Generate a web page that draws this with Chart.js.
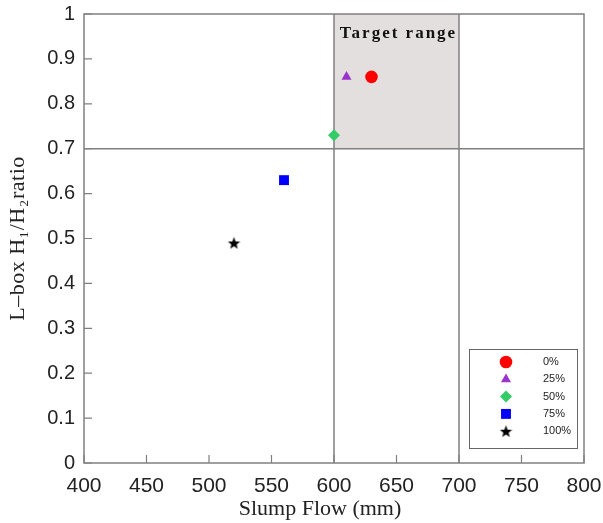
<!DOCTYPE html>
<html>
<head>
<meta charset="utf-8">
<style>
  html,body{margin:0;padding:0;background:#fff;}
  #wrap{width:603px;height:523px;}
</style>
<script src="https://cdn.jsdelivr.net/npm/chart.js@4.4.0/dist/chart.umd.min.js"></script>
</head>
<body>
<div id="wrap"><canvas id="c" width="603" height="523"></canvas></div>
<script>
// ---- data ----
const seriesLabels = ['0%', '25%', '50%', '75%', '100%'];
const slumpFlow = [630, 610, 600, 560, 520];
const lboxRatio = [0.86, 0.86, 0.73, 0.63, 0.49];
const xTicks = [400, 450, 500, 550, 600, 650, 700, 750, 800];
const yTicks = ['0', '0.1', '0.2', '0.3', '0.4', '0.5', '0.6', '0.7', '0.8', '0.9', '1'];
const targetX = [600, 700];
const targetY = [0.7, 1];
const xTitle = 'Slump Flow (mm)';
const yTitle = 'L\u2013box H\u2081/H\u2082ratio';
const targetLabel = 'Target range';

const colors = ['#ff0000', '#9933cc', '#33cc66', '#0000ff', '#000000'];

function starImage(size, color) {
  const cv = document.createElement('canvas');
  cv.width = size; cv.height = size;
  const g = cv.getContext('2d');
  const cx = size / 2, cy = size / 2 + 0.6, R = size / 2, r = R * 0.42;
  g.beginPath();
  for (let i = 0; i < 10; i++) {
    const rad = i % 2 === 0 ? R : r;
    const a = -Math.PI / 2 + i * Math.PI / 5;
    const px = cx + rad * Math.cos(a), py = cy + rad * Math.sin(a);
    if (i === 0) g.moveTo(px, py); else g.lineTo(px, py);
  }
  g.closePath();
  g.fillStyle = color;
  g.fill();
  return cv;
}
const star = starImage(13, '#000');

const styles = [
  {pointStyle: 'circle', radius: 6.3},
  {pointStyle: 'triangle', radius: 5.8},
  {pointStyle: 'rectRot', radius: 6},
  {pointStyle: 'rect', radius: 7},
  {pointStyle: star, radius: 6.5}
];

const datasets = seriesLabels.map((lab, i) => ({
  label: lab,
  data: [{x: slumpFlow[i], y: lboxRatio[i]}],
  backgroundColor: colors[i],
  borderColor: colors[i],
  borderWidth: 0,
  pointStyle: styles[i].pointStyle,
  pointRadius: styles[i].radius,
  pointHoverRadius: styles[i].radius
}));

const GRAY = '#808080';

const decor = {
  id: 'decor',
  beforeDatasetsDraw(chart) {
    const {ctx, chartArea: a, scales: {x, y}} = chart;
    ctx.save();
    // shaded target region
    const x0 = x.getPixelForValue(targetX[0]), x1 = x.getPixelForValue(targetX[1]);
    const y0 = y.getPixelForValue(targetY[1]), y1 = y.getPixelForValue(targetY[0]);
    ctx.fillStyle = '#e4dfdf';
    ctx.fillRect(x0, y0, x1 - x0, y1 - y0);
    // text
    ctx.fillStyle = '#111';
    ctx.font = 'bold 17px "Liberation Serif", "DejaVu Serif", serif';
    ctx.letterSpacing = '2px';
    ctx.textAlign = 'center';
    ctx.textBaseline = 'middle';
    ctx.fillText(targetLabel, (x0 + x1) / 2 + 2, y.getPixelForValue(0.957));
    ctx.letterSpacing = '0px';
    // reference lines
    ctx.strokeStyle = GRAY;
    ctx.lineWidth = 1.5;
    ctx.beginPath();
    [targetX[0], targetX[1]].forEach(v => {
      const px = x.getPixelForValue(v);
      ctx.moveTo(px, a.top); ctx.lineTo(px, a.bottom);
    });
    const py = y.getPixelForValue(targetY[0]);
    ctx.moveTo(a.left, py); ctx.lineTo(a.right, py);
    ctx.stroke();
    // frame
    ctx.strokeRect(a.left, a.top, a.right - a.left, a.bottom - a.top);
    // inward ticks
    ctx.lineWidth = 1.2;
    ctx.beginPath();
    xTicks.forEach(v => {
      const px = x.getPixelForValue(v);
      ctx.moveTo(px, a.bottom); ctx.lineTo(px, a.bottom - 8);
    });
    yTicks.forEach(t => {
      const py2 = y.getPixelForValue(parseFloat(t));
      ctx.moveTo(a.left, py2); ctx.lineTo(a.left + 8, py2);
    });
    ctx.stroke();
    ctx.restore();
  },
  afterDatasetsDraw(chart) {
    const {ctx, chartArea: a} = chart;
    ctx.save();
    // legend box
    const bx = 469, by = 349, bw = 108, bh = 99;
    ctx.fillStyle = '#fff';
    ctx.fillRect(bx, by, bw, bh);
    ctx.strokeStyle = '#666';
    ctx.lineWidth = 1;
    ctx.strokeRect(bx + 0.5, by + 0.5, bw, bh);
    ctx.font = '11px "Liberation Sans", Arial, sans-serif';
    ctx.textBaseline = 'middle';
    ctx.textAlign = 'left';
    seriesLabels.forEach((lab, i) => {
      const ry = 362 + i * 17.3;
      ctx.fillStyle = colors[i];
      ctx.strokeStyle = colors[i];
      Chart.helpers.drawPoint(ctx, {pointStyle: styles[i].pointStyle, radius: styles[i].radius, borderWidth: 0, rotation: 0}, 506, ry);
      ctx.fillStyle = '#222';
      ctx.fillText(lab, 543, ry);
    });
    // axis titles
    ctx.fillStyle = '#222';
    ctx.font = '22px "Liberation Serif", "DejaVu Serif", serif';
    ctx.textAlign = 'center';
    ctx.textBaseline = 'alphabetic';
    ctx.fillText(xTitle, 320, 515);
    ctx.translate(18, (a.top + a.bottom) / 2);
    ctx.rotate(-Math.PI / 2);
    ctx.textBaseline = 'middle';
    ctx.letterSpacing = '0.5px';
    ctx.fillText(yTitle, 0, 0);
    ctx.restore();
  }
};

new Chart(document.getElementById('c'), {
  type: 'scatter',
  data: {datasets},
  options: {
    responsive: false,
    animation: false,
    layout: {padding: {top: 14, right: 19, left: 0, bottom: 0}},
    plugins: {legend: {display: false}, tooltip: {enabled: false}},
    scales: {
      x: {
        type: 'linear', min: 400, max: 800,
        afterFit(s) { s.height = 60; s.paddingLeft = 0; s.paddingRight = 0; },
        afterBuildTicks(s) { s.ticks = xTicks.map(v => ({value: v})); },
        grid: {display: false, drawTicks: false},
        border: {display: false},
        ticks: {
          padding: 11,
          color: '#222',
          font: {family: '"Liberation Sans", Arial, sans-serif', size: 21},
          callback: (v) => String(v),
          maxRotation: 0
        }
      },
      y: {
        type: 'linear', min: 0, max: 1,
        afterFit(s) { s.width = 84; s.paddingTop = 0; s.paddingBottom = 0; },
        afterBuildTicks(s) { s.ticks = yTicks.map(t => ({value: parseFloat(t)})); },
        grid: {display: false, drawTicks: false},
        border: {display: false},
        ticks: {
          padding: 9,
          color: '#222',
          font: {family: '"Liberation Sans", Arial, sans-serif', size: 20},
          callback: (v, i) => yTicks[i]
        }
      }
    }
  },
  plugins: [decor]
});
</script>
</body>
</html>
